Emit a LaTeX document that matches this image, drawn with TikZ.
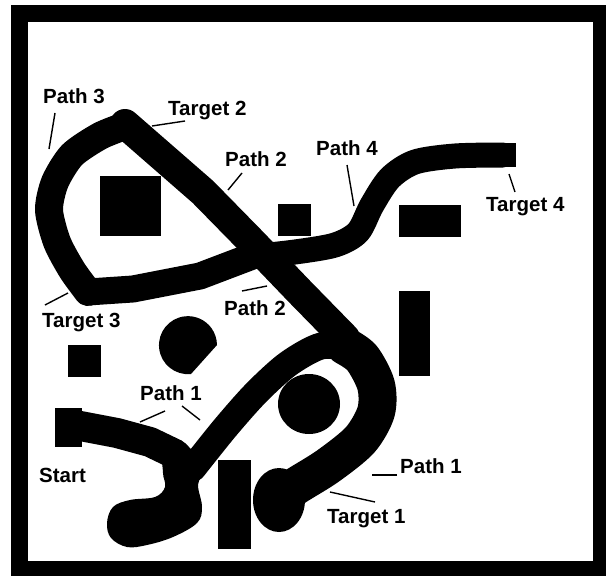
\documentclass[tikz,border=0pt]{standalone}
\usepackage{fontspec}
\setmainfont{Liberation Sans}
\begin{document}
\begin{tikzpicture}[x=1pt,y=-1pt,
  band/.style={line width=#1, line cap=round, line join=round},
  band/.default=28,
  lbl/.style={font=\fontsize{20.5}{24}\selectfont\bfseries, inner sep=0pt, anchor=base west},
  leader/.style={line width=1.4pt}]
% background and frame
\fill[white] (0,0) rectangle (611,578);
\useasboundingbox (0,0) rectangle (611,578);
\fill[black] (11,5) rectangle (606,576);
\fill[white] (28,22) rectangle (593,561);
% obstacles
\fill (100,176) rectangle (161,236);
\fill (278,204) rectangle (311,236);
\fill (399,205) rectangle (461,237);
\fill (399,291) rectangle (430,376);
\fill (68,345) rectangle (101,377);
\fill (218,460) rectangle (251,549);
\fill (309,404) ellipse [x radius=31, y radius=30];
\fill (217,345) -- (191,374) arc[start angle=-84, end angle=-360, radius=29pt] -- cycle;
% Path 3 loop
\draw[band=28] plot[smooth, tension=0.45] coordinates {(125,126) (100,136) (72,155) (55,182) (49,210) (57,242) (72,270) (88,292)};
\draw[band=27] (88,292) -- (133,289) -- (200,276) -- (250,257);
% Path 4
\draw[band=25] plot[smooth, tension=0.5] coordinates {(250,257) (295,252) (335,245) (358,232) (372,205) (390,178) (415,162) (455,156) (503,155)};
\fill (495,143) rectangle (516,167);
% Path 2
\draw[band=30] (125,124) -- (203,192) -- (252,242) -- (300,292) -- (345,338);
% Path 1
\fill (55,408) rectangle (82,447);
\draw[band=30] (75,425) -- (117,433) -- (150,442) -- (175,454) -- (188,468);
\fill plot[smooth cycle, tension=0.6] coordinates {(165,455) (163,473) (165,487) (155,497) (130,500) (113,507) (107,523) (111,538) (127,547) (147,545) (173,537) (197,523) (202,507) (198,485) (203,470) (192,455)};
\draw[band=27] plot[smooth, tension=0.5] coordinates {(193,468) (225,428) (256,393) (288,364) (321,346) (350,348)};
\draw[band=38] plot[smooth, tension=0.5] coordinates {(345,346) (362,358) (376,385) (376,412) (360,440) (328,466) (296,486) (282,496)};
\fill (279,500) ellipse [x radius=26, y radius=32];
% labels
\node[lbl] (p3) at (43,103) {Path 3};
\node[lbl] (t2) at (168,115) {Target 2};
\node[lbl] (p2a) at (225,166) {Path 2};
\node[lbl] (p4) at (316,155) {Path 4};
\node[lbl] (t4) at (486,211) {Target 4};
\node[lbl] (t3) at (42,327) {Target 3};
\node[lbl] (p2b) at (224,315) {Path 2};
\node[lbl] (p1a) at (140,400) {Path 1};
\node[lbl] (st) at (39,482) {Start};
\node[lbl] (p1b) at (400,473) {Path 1};
\node[lbl] (t1) at (327,523) {Target 1};
% leader lines
\coordinate (p3s) at (55,113); \coordinate (p3e) at (49,149);
\coordinate (t2s) at (185,121); \coordinate (t2e) at (152,126);
\coordinate (p2as) at (242,173); \coordinate (p2ae) at (228,190);
\coordinate (p4s) at (347,165); \coordinate (p4e) at (354,206);
\coordinate (t4s) at (509,174); \coordinate (t4e) at (515,192);
\coordinate (t3s) at (68,293); \coordinate (t3e) at (45,305);
\coordinate (p2bs) at (267,286); \coordinate (p2be) at (242,291);
\coordinate (p1as) at (165,411); \coordinate (p1ae) at (140,422);
\coordinate (p1cs) at (182,406); \coordinate (p1ce) at (200,420);
\coordinate (p1bs) at (397,475); \coordinate (p1be) at (372,475);
\coordinate (t1s) at (375,502); \coordinate (t1e) at (330,492);
\draw[leader] (p3s) -- (p3e);
\draw[leader] (t2s) -- (t2e);
\draw[leader] (p2as) -- (p2ae);
\draw[leader] (p4s) -- (p4e);
\draw[leader] (t4s) -- (t4e);
\draw[leader] (t3s) -- (t3e);
\draw[leader] (p2bs) -- (p2be);
\draw[leader] (p1as) -- (p1ae);
\draw[leader] (p1cs) -- (p1ce);
\draw[leader] (p1bs) -- (p1be);
\draw[leader] (t1s) -- (t1e);
\end{tikzpicture}
\end{document}
